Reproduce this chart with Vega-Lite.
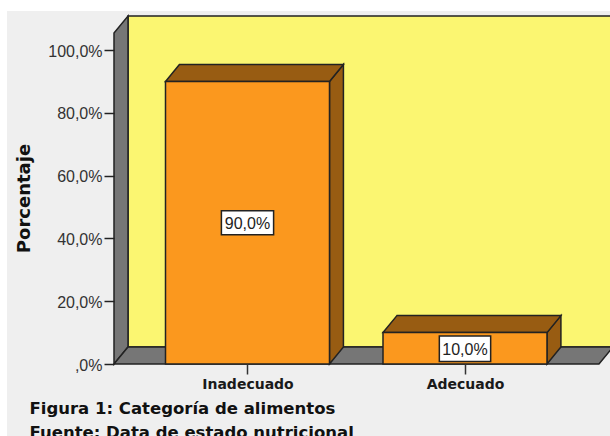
{
  "$schema": "https://vega.github.io/schema/vega-lite/v6.json",
  "width": 496,
  "height": 348,
  "autosize": {"type": "none"},
  "padding": {"left": 114, "top": 16, "right": 0, "bottom": 72},
  "background": "#ffffff",
  "config": {"view": {"stroke": null}, "font": "Liberation Sans"},
  "datasets": {
    "panel": [{"x": -0.106, "x2": 2.7, "y": -23, "y2": 112.4}],
    "backdrop": [
      {"face": "wall", "part": "wall", "x": 0.4506, "y": 5.41, "y2": 110.83},
      {"face": "wall", "part": "wall", "x": 2.72, "y": 5.41, "y2": 110.83},
      {"face": "leftWall", "part": "grey", "x": 0.3862, "y": 0, "y2": 105.42},
      {"face": "leftWall", "part": "grey", "x": 0.4506, "y": 5.41, "y2": 110.83}
    ],
    "floor": [
      {"face": "floor", "part": "grey", "y": 0, "x": 0.3862, "x2": 2.616},
      {"face": "floor", "part": "grey", "y": 5.41, "x": 0.4506, "x2": 2.6805}
    ],
    "barSides": [
      {"face": "side1", "part": "shade", "x": 1.377, "y": 0, "y2": 90},
      {"face": "side1", "part": "shade", "x": 1.441, "y": 5.41, "y2": 95.41},
      {"face": "side2", "part": "shade", "x": 2.377, "y": 0, "y2": 10},
      {"face": "side2", "part": "shade", "x": 2.441, "y": 5.41, "y2": 15.41}
    ],
    "barTops": [
      {"face": "top1", "part": "shade", "y": 90, "x": 0.623, "x2": 1.377},
      {"face": "top1", "part": "shade", "y": 95.41, "x": 0.687, "x2": 1.441},
      {"face": "top2", "part": "shade", "y": 10, "x": 1.623, "x2": 2.377},
      {"face": "top2", "part": "shade", "y": 15.41, "x": 1.687, "x2": 2.441}
    ],
    "bars": [
      {"categoria": "Inadecuado", "part": "front", "x": 0.623, "x2": 1.377, "y": 0, "y2": 90},
      {"categoria": "Adecuado", "part": "front", "x": 1.623, "x2": 2.377, "y": 0, "y2": 10}
    ],
    "labels": [
      {"etiqueta": "90,0%", "x": 1, "y": 44.6, "xmin": 0.88, "xmax": 1.12, "ymin": 41.2, "ymax": 48.8},
      {"etiqueta": "10,0%", "x": 2, "y": 4.6, "xmin": 1.882, "xmax": 2.118, "ymin": 0.8, "ymax": 8.9}
    ]
  },
  "encoding": {
    "x": {
      "field": "x",
      "type": "quantitative",
      "scale": {"domain": [0.3862, 2.6667], "nice": false, "zero": false},
      "axis": {
        "values": [1, 2],
        "labelExpr": "datum.value == 1 ? 'Inadecuado' : 'Adecuado'",
        "domain": false,
        "grid": false,
        "zindex": 1,
        "tickSize": 10,
        "tickWidth": 1.5,
        "tickColor": "#333333",
        "labelFont": "DejaVu Sans",
        "labelFontSize": 14,
        "labelFontWeight": "bold",
        "labelColor": "#1a1a1a",
        "labelPadding": 3,
        "title": ["Figura 1: Categoría de alimentos", "\u2009Fuente: Data de estado nutricional"],
        "titleX": -85,
        "titleY": 49,
        "titleAlign": "left",
        "titleBaseline": "alphabetic",
        "titleFont": "DejaVu Sans",
        "titleFontSize": 16.5,
        "titleFontWeight": "bold",
        "titleColor": "#111111",
        "titleLineHeight": 24
      }
    },
    "y": {
      "field": "y",
      "type": "quantitative",
      "scale": {"domain": [0, 110.83], "nice": false, "zero": false},
      "axis": {
        "values": [0, 20, 40, 60, 80, 100],
        "labelExpr": "datum.value == 0 ? ',0%' : datum.value + ',0%'",
        "domain": false,
        "grid": false,
        "zindex": 1,
        "tickSize": 10,
        "tickWidth": 1.5,
        "tickColor": "#222222",
        "labelFontSize": 16,
        "labelColor": "#333333",
        "labelPadding": 2,
        "labelOffset": 1,
        "title": "Porcentaje",
        "titleFont": "DejaVu Sans",
        "titleFontSize": 18,
        "titleFontWeight": "bold",
        "titleColor": "#111111",
        "titleX": -81,
        "titleY": 182
      }
    },
    "color": {
      "field": "part",
      "type": "nominal",
      "legend": null,
      "scale": {
        "domain": ["wall", "grey", "shade", "front"],
        "range": ["#fbf671", "#767676", "#985c12", "#fb981e"]
      }
    }
  },
  "layer": [
    {
      "data": {"name": "panel"},
      "mark": {"type": "rect", "fill": "#efefef", "clip": false},
      "encoding": {
        "x2": {"field": "x2"},
        "y2": {"field": "y2"},
        "color": {"value": "#efefef"}
      }
    },
    {
      "data": {"name": "backdrop"},
      "mark": {"type": "area", "orient": "vertical", "stroke": "#222222", "strokeWidth": 1.5},
      "encoding": {"y2": {"field": "y2"}, "detail": {"field": "face"}}
    },
    {
      "data": {"name": "floor"},
      "mark": {"type": "area", "orient": "horizontal", "stroke": "#222222", "strokeWidth": 1.5},
      "encoding": {"x2": {"field": "x2"}, "detail": {"field": "face"}}
    },
    {
      "data": {"name": "barSides"},
      "mark": {"type": "area", "orient": "vertical", "stroke": "#222222", "strokeWidth": 1.5},
      "encoding": {"y2": {"field": "y2"}, "detail": {"field": "face"}}
    },
    {
      "data": {"name": "barTops"},
      "mark": {"type": "area", "orient": "horizontal", "stroke": "#222222", "strokeWidth": 1.5},
      "encoding": {"x2": {"field": "x2"}, "detail": {"field": "face"}}
    },
    {
      "data": {"name": "bars"},
      "mark": {"type": "rect", "stroke": "#222222", "strokeWidth": 1.5},
      "encoding": {"x2": {"field": "x2"}, "y2": {"field": "y2"}}
    },
    {
      "data": {"name": "labels"},
      "mark": {"type": "rect", "fill": "#ffffff", "stroke": "#222222", "strokeWidth": 1.5},
      "encoding": {
        "x": {"field": "xmin", "type": "quantitative"},
        "x2": {"field": "xmax"},
        "y": {"field": "ymin", "type": "quantitative"},
        "y2": {"field": "ymax"},
        "color": {"value": "#ffffff"}
      }
    },
    {
      "data": {"name": "labels"},
      "mark": {"type": "text", "fontSize": 16, "align": "center", "baseline": "middle"},
      "encoding": {
        "text": {"field": "etiqueta"},
        "color": {"value": "#222222"}
      }
    }
  ]
}
